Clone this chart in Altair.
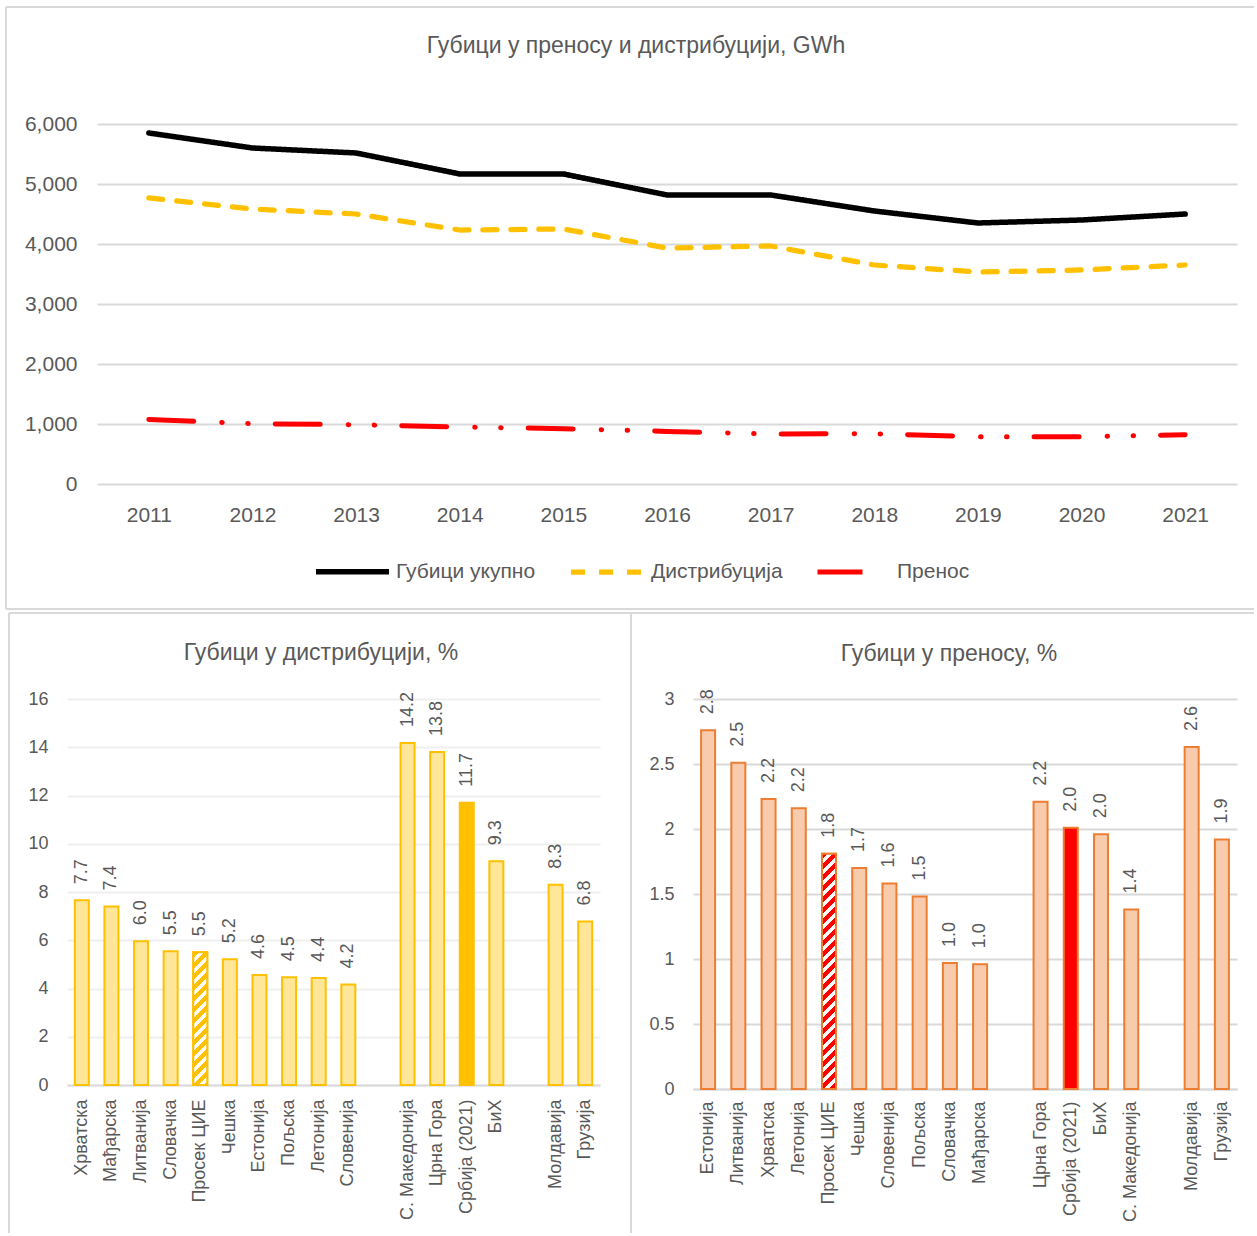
import altair as alt
import pandas as pd

FONT = "Liberation Sans, Arial, sans-serif"
TEXT_GREY = "#595959"
GRID_GREY = "#D9D9D9"
LIGHT_GRID = "#EFEFEF"
BORDER = "#D9D9D9"

# ---------------- Losses in transmission and distribution, GWh ----------------
years = ["2011", "2012", "2013", "2014", "2015", "2016", "2017", "2018", "2019", "2020", "2021"]
total_losses = [5850, 5600, 5517, 5167, 5167, 4817, 4817, 4550, 4350, 4400, 4500]
distribution_losses = [4767, 4583, 4500, 4233, 4250, 3933, 3967, 3650, 3533, 3567, 3650]
transmission_losses = [1077, 1005, 988, 950, 922, 877, 833, 838, 788, 788, 822]
series_names = ["Губици укупно", "Дистрибуција", "Пренос"]
gwh_ticks = [0, 1000, 2000, 3000, 4000, 5000, 6000]
TITLE_GWH = "Губици у преносу и дистрибуцији, GWh"

# ---------------- Distribution losses, % ----------------
dist_cee = ["Хрватска", "Мађарска", "Литванија", "Словачка", "Просек ЦИЕ",
            "Чешка", "Естонија", "Пољска", "Летонија", "Словенија"]
dist_cee_values = [7.66, 7.4, 5.96, 5.54, 5.5, 5.21, 4.56, 4.47, 4.44, 4.17]
dist_region = ["С. Македонија", "Црна Гора", "Србија (2021)", "БиХ"]
dist_region_values = [14.18, 13.8, 11.7, 9.27]
dist_east = ["Молдавија", "Грузија"]
dist_east_values = [8.3, 6.78]
dist_ticks = [0, 2, 4, 6, 8, 10, 12, 14, 16]
TITLE_DIST = "Губици у дистрибуцији, %"

# ---------------- Transmission losses, % ----------------
trans_cee = ["Естонија", "Литванија", "Хрватска", "Летонија", "Просек ЦИЕ",
             "Чешка", "Словенија", "Пољска", "Словачка", "Мађарска"]
trans_cee_values = [2.76, 2.51, 2.23, 2.16, 1.81, 1.7, 1.58, 1.48, 0.97, 0.96]
trans_region = ["Црна Гора", "Србија (2021)", "БиХ", "С. Македонија"]
trans_region_values = [2.21, 2.01, 1.96, 1.38]
trans_east = ["Молдавија", "Грузија"]
trans_east_values = [2.63, 1.92]
trans_ticks = [0, 0.5, 1, 1.5, 2, 2.5, 3]
TITLE_TRANS = "Губици у преносу, %"

AVG = "Просек ЦИЕ"
SERBIA = "Србија (2021)"
GAPS = [" ", "  "]

BAR_SIZE = 14
TITLE_SIZE = 23
TOP_LABEL_SIZE = 21
BAR_LABEL_SIZE = 18


def border(x, y, x2=None, y2=None):
    enc = {"x": alt.value(x), "y": alt.value(y)}
    if x2 is not None:
        enc["x2"] = alt.value(x2)
    if y2 is not None:
        enc["y2"] = alt.value(y2)
    return alt.Chart(alt.Data(values=[{}])).mark_rule(
        color=BORDER, strokeWidth=2).encode(**enc)


def title_text(text, x, y, size):
    return alt.Chart(pd.DataFrame({"t": [text]})).mark_text(
        font=FONT, fontSize=size, color=TEXT_GREY, align="center", baseline="middle"
    ).encode(x=alt.value(x), y=alt.value(y), text="t:N")


def hatch(color, w, h, period=11.0, share=0.5):
    """Diagonal stripes as a hard-stop linear gradient over the bar's box."""
    span = w + h
    k = span / (w * w + h * h)
    stops = []
    pos = 0.0
    while pos < span:
        a = pos / span
        b = min((pos + period * share) / span, 1.0)
        c = min((pos + period) / span, 1.0)
        stops += [
            {"offset": a, "color": color},
            {"offset": b, "color": color},
            {"offset": b, "color": "#FFFFFF"},
            {"offset": c, "color": "#FFFFFF"},
        ]
        pos += period
    return {"gradient": "linear", "x1": 0, "y1": 0, "x2": k * w, "y2": k * h, "stops": stops}


# ---------------- top panel: lines ----------------
lines_df = pd.DataFrame({
    "year": years * 3,
    "gwh": total_losses + distribution_losses + transmission_losses,
    "series": [s for s in series_names for _ in years],
})

TOP_W, TOP_H = 1170, 360

legend = alt.Legend(
    title=None, orient="none", legendX=246, legendY=408, direction="horizontal",
    symbolType="stroke", symbolSize=73 * 73, symbolStrokeWidth=5,
    labelFont=FONT, labelFontSize=TOP_LABEL_SIZE, labelColor=TEXT_GREY, labelOffset=4,
    columnPadding=24, padding=0,
)

lines = alt.Chart(lines_df).mark_line(strokeCap="round", strokeJoin="round").encode(
    x=alt.X("year:O", scale=alt.Scale(range=[30, 1170], padding=0.5),
            axis=alt.Axis(title=None, labelAngle=0, ticks=False, domain=False,
                          labelPadding=20, labelFont=FONT, labelFontSize=TOP_LABEL_SIZE,
                          labelColor=TEXT_GREY)),
    y=alt.Y("gwh:Q", scale=alt.Scale(domain=[0, 6000], nice=False),
            axis=alt.Axis(title=None, values=gwh_ticks, format=",.0f", ticks=False,
                          domain=False, grid=True, gridColor=GRID_GREY, gridWidth=2,
                          offset=-30, labelPadding=20, labelFont=FONT,
                          labelFontSize=TOP_LABEL_SIZE, labelColor=TEXT_GREY)),
    color=alt.Color("series:N", sort=series_names,
                    scale=alt.Scale(domain=series_names, range=["#000000", "#FFC000", "#FF0000"]),
                    legend=legend),
    strokeDash=alt.StrokeDash("series:N", sort=series_names,
                              scale=alt.Scale(domain=series_names,
                                              range=[[1, 0], [14, 14], [45, 28, 0.5, 25.5, 0.5, 27]]),
                              legend=legend),
    strokeWidth=alt.StrokeWidth("series:N",
                                scale=alt.Scale(domain=series_names, range=[5.5, 5, 6]),
                                legend=None),
)

top = alt.layer(
    lines,
    title_text(TITLE_GWH, 569, -78, TITLE_SIZE),
    border(-61, -117, x2=1187),
    border(-61, -117, y2=485),
    border(-61, 485, x2=1187),
).properties(width=TOP_W, height=TOP_H)


# ---------------- bottom panels: bars ----------------
def bar_frame(names, values):
    kind = ["avg" if n == AVG else "serbia" if n == SERBIA else "country" for n in names]
    return pd.DataFrame({"country": names, "value": values, "kind": kind})


def bar_panel(names, values, domain, ymax, ticks, width, height, fills, stroke,
              hatch_color, grid_color, x_label_pad, title, title_xy, borders):
    df = bar_frame(names, values)
    x = alt.X("country:N", sort=None,
              scale=alt.Scale(domain=domain, paddingInner=0.4, paddingOuter=0.2),
              axis=alt.Axis(title=None, labelAngle=270, labelPadding=x_label_pad,
                            ticks=False, domain=True, domainColor=GRID_GREY, domainWidth=2,
                            labelFont=FONT, labelFontSize=BAR_LABEL_SIZE,
                            labelColor=TEXT_GREY, labelLimit=300))
    y = alt.Y("value:Q", scale=alt.Scale(domain=[0, ymax], nice=False),
              axis=alt.Axis(title=None, values=ticks, format="~g", ticks=False,
                            domain=False, grid=True, gridColor=grid_color, gridWidth=2,
                            labelPadding=19, labelFont=FONT, labelFontSize=BAR_LABEL_SIZE,
                            labelColor=TEXT_GREY))
    bars = alt.Chart(df).mark_bar(size=BAR_SIZE, stroke=stroke, strokeWidth=2).encode(
        x=x, y=y,
        fill=alt.Fill("kind:N", scale=alt.Scale(domain=["country", "serbia", "avg"], range=fills),
                      legend=None),
    )
    avg_value = df.loc[df["kind"] == "avg", "value"].iloc[0]
    avg_h = avg_value * height / ymax
    striped = alt.Chart(df).transform_filter(alt.datum.kind == "avg").mark_bar(
        size=BAR_SIZE, stroke=stroke, strokeWidth=2,
        fill=hatch(hatch_color, BAR_SIZE, avg_h),
    ).encode(x=x, y=y)
    labels = alt.Chart(df).mark_text(
        angle=270, align="left", baseline="middle", dx=16,
        font=FONT, fontSize=BAR_LABEL_SIZE, color=TEXT_GREY,
    ).encode(x=x, y=y, text=alt.Text("value:Q", format=".1f"))
    return alt.layer(
        bars, striped, labels,
        title_text(title, title_xy[0], title_xy[1], TITLE_SIZE),
        *borders,
    ).properties(width=width, height=height)


dist_domain = dist_cee + [GAPS[0]] + dist_region + [GAPS[1]] + dist_east
trans_domain = trans_cee + [GAPS[0]] + trans_region + [GAPS[1]] + trans_east

left = bar_panel(
    dist_cee + dist_region + dist_east,
    dist_cee_values + dist_region_values + dist_east_values,
    dist_domain, 16, dist_ticks, 533, 386,
    ["#FFE699", "#FFC000", "#FFFFFF"], "#FFC000", "#FFC000", LIGHT_GRID, 14,
    TITLE_DIST, (254, -46),
    [border(-58, -86, x2=564), border(-58, -86, y2=534), border(564, -86, y2=534)],
)

right = bar_panel(
    trans_cee + trans_region + trans_east,
    trans_cee_values + trans_region_values + trans_east_values,
    trans_domain, 3, trans_ticks, 544, 390,
    ["#F8CBAD", "#FF0000", "#FFFFFF"], "#ED7D31", "#FF0000", GRID_GREY, 12,
    TITLE_TRANS, (256, -45),
    [border(-62, -86, x2=561)],
)

bottom = alt.hconcat(left, right, spacing=93, bounds="flush").resolve_scale(
    fill="independent", x="independent", y="independent"
)

chart = alt.vconcat(top, bottom, spacing=215, bounds="flush").properties(
    padding={"left": 5, "top": 6, "right": 0, "bottom": 0}
).configure_view(strokeWidth=0)

chart.save("out.html", embed_options={"renderer": "svg", "actions": False})
